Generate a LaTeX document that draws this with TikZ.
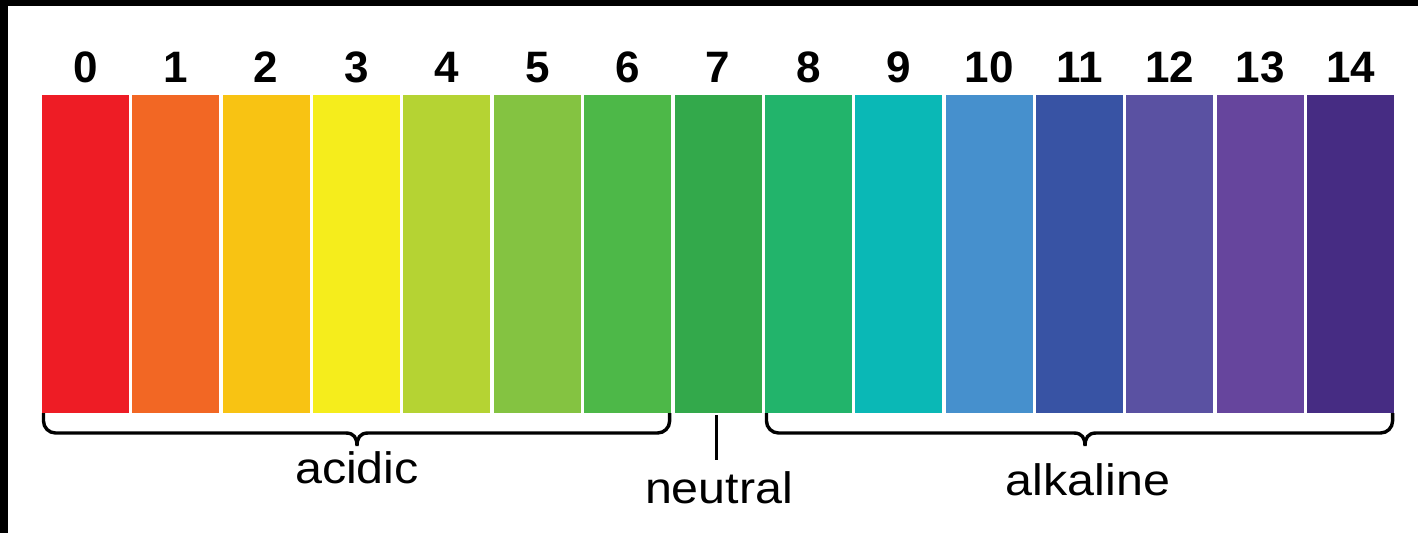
\documentclass[tikz,border=0pt]{standalone}
\usepackage{fontspec}
\setmainfont{Liberation Sans}
\newfontfamily\lblfont[FakeStretch=1.1]{Liberation Sans}
\usetikzlibrary{calc}

% pH scale colours
\definecolor{ph0}{HTML}{EE1C25}
\definecolor{ph1}{HTML}{F26724}
\definecolor{ph2}{HTML}{F8C313}
\definecolor{ph3}{HTML}{F5ED1C}
\definecolor{ph4}{HTML}{B5D333}
\definecolor{ph5}{HTML}{84C341}
\definecolor{ph6}{HTML}{4DB848}
\definecolor{ph7}{HTML}{33A94B}
\definecolor{ph8}{HTML}{22B46B}
\definecolor{ph9}{HTML}{0AB8B6}
\definecolor{ph10}{HTML}{4690CD}
\definecolor{ph11}{HTML}{3853A4}
\definecolor{ph12}{HTML}{5A51A2}
\definecolor{ph13}{HTML}{66459D}
\definecolor{ph14}{HTML}{462C83}

\tikzset{
  x=1pt, y=-1pt,
  bar/.style={draw=none, inner sep=0pt, minimum width=86.9pt, minimum height=318pt},
  num/.style={anchor=base, inner sep=0pt, font=\fontsize{44}{50}\selectfont\bfseries},
  lbl/.style={anchor=base, inner sep=0pt, font=\fontsize{44}{52}\selectfont\lblfont},
  brace/.style={line width=3.4pt, black},
}

\begin{document}
\begin{tikzpicture}
  \useasboundingbox (0,0) rectangle (1418,533);
  \fill[white] (0,0) rectangle (1418,533);
  % frame bands along the top and left edges
  \fill[black] (0,0) rectangle (1418,6);
  \fill[black] (0,0) rectangle (8,533);

  % colour bars and their numbers
  \foreach \i in {0,...,14} {
    \pgfmathsetmacro{\cx}{42+90.37*\i+43.45}
    \node[bar, fill=ph\i] (b\i) at (\cx,254) {};
    \node[num] (n\i) at (\cx,82) {\i};
  }

  % acidic brace
  \coordinate (aL) at ($(b0.south west)+(1.7pt,0)$);
  \coordinate (aR) at ($(b6.south east)+(-1.7pt,0)$);
  \draw[brace, rounded corners=12pt] (aL) |- (346,433);
  \draw[brace] (346,433) .. controls (354,433) and (357,438) .. (357,446)
               .. controls (357,438) and (360,433) .. (368,433);
  \draw[brace, rounded corners=12pt] (368,433) -| (aR);

  % alkaline brace
  \coordinate (kL) at ($(b8.south west)+(1.7pt,0)$);
  \coordinate (kR) at ($(b14.south east)+(-1.7pt,0)$);
  \draw[brace, rounded corners=12pt] (kL) |- (1074,433);
  \draw[brace] (1074,433) .. controls (1082,433) and (1085,438) .. (1085,446)
               .. controls (1085,438) and (1088,433) .. (1096,433);
  \draw[brace, rounded corners=12pt] (1096,433) -| (kR);

  % neutral tick
  \coordinate (nt) at ($(b7.south)+(-1.5pt,-2pt)$);
  \coordinate (nb) at (nt |- 0,460);
  \draw[brace] (nt) -- (nb);

  % labels
  \node[lbl] (acidic) at (357,483) {acidic};
  \node[lbl] (neutral) at (719,503) {neutral};
  \node[lbl] (alkaline) at (1088,495) {alkaline};
\end{tikzpicture}
\end{document}
